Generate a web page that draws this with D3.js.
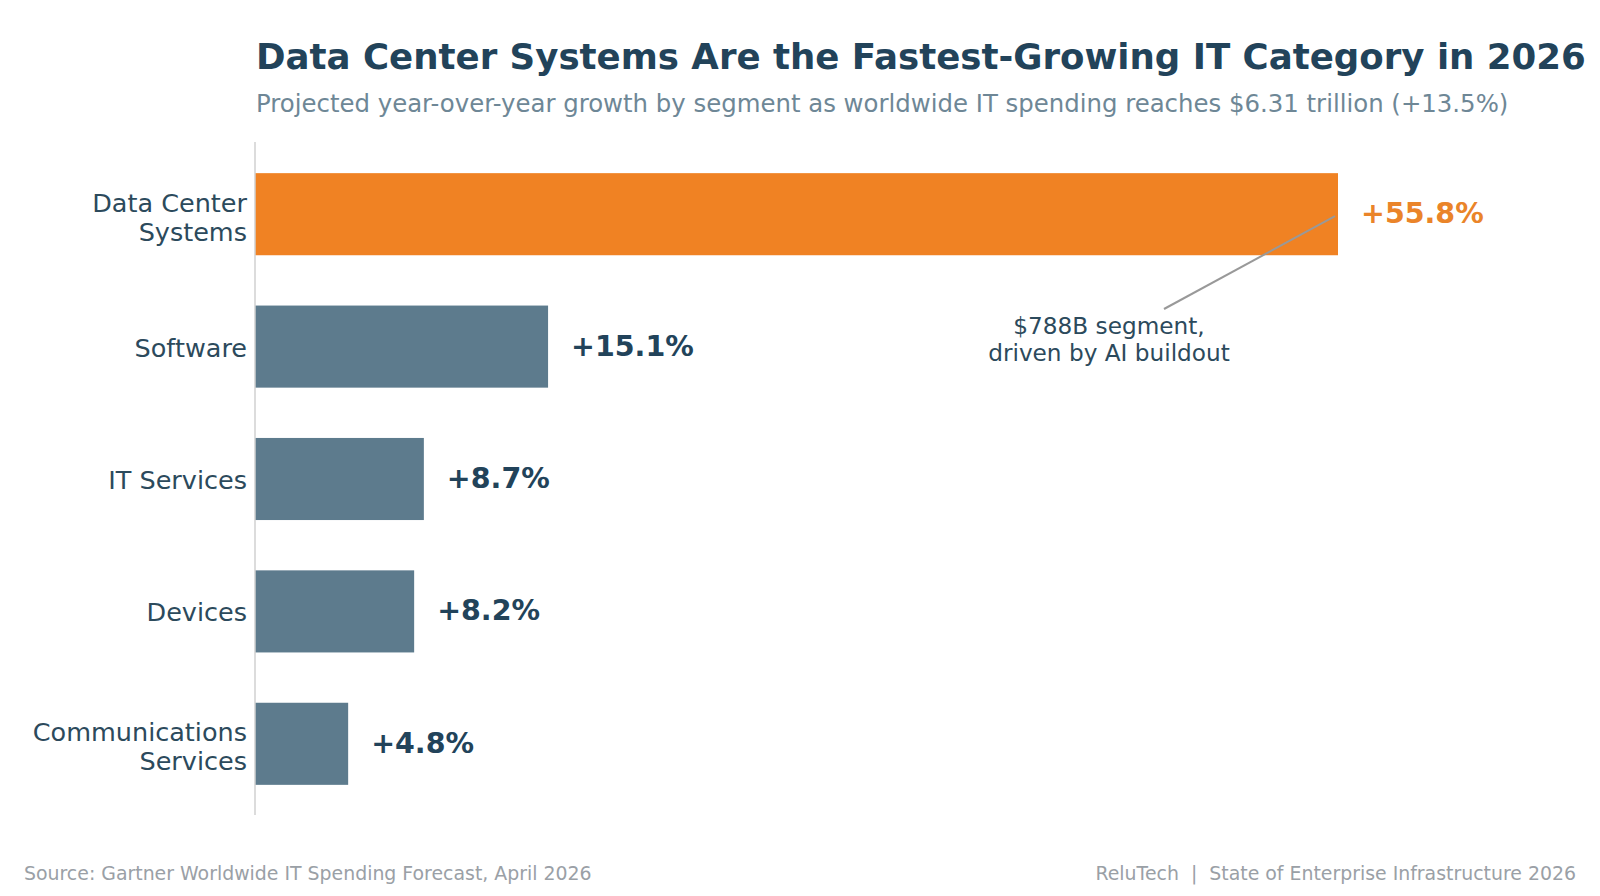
<!DOCTYPE html>
<html>
<head>
<meta charset="utf-8">
<script src="https://cdn.jsdelivr.net/npm/d3@7"></script>
<style>
  body { margin: 0; background: #fff; }
  svg { display: block; font-family: "DejaVu Sans", sans-serif; }
</style>
</head>
<body>
<svg id="chart" width="1600" height="896"></svg>
<script>
// chart data
var categories = [["Data Center", "Systems"], ["Software"], ["IT Services"], ["Devices"], ["Communications", "Services"]];
var growth = [55.8, 15.1, 8.7, 8.2, 4.8];
var valueLabels = ["+55.8%", "+15.1%", "+8.7%", "+8.2%", "+4.8%"];
var highlight = 0; // index of the bar that gets the orange colour

var title = "Data Center Systems Are the Fastest-Growing IT Category in 2026";
var subtitle = "Projected year-over-year growth by segment as worldwide IT spending reaches $6.31 trillion (+13.5%)";
var note = ["$788B segment,", "driven by AI buildout"];
var sourceText = "Source: Gartner Worldwide IT Spending Forecast, April 2026";
var brandText = "ReluTech  |  State of Enterprise Infrastructure 2026";

var orange = "#F08223",
    slate = "#5D7B8D",
    dark = "#22435A";

var svg = d3.select("#chart");

// scales
var x = d3.scaleLinear()
    .domain([0, 55.8])
    .range([255, 1338]);

var y = d3.scaleBand()
    .domain(d3.range(categories.length))
    .range([148, 810])
    .paddingInner(0.38)
    .paddingOuter(0.19);

// title + subtitle
svg.append("text")
    .attr("x", 256)
    .attr("y", 69)
    .attr("font-size", 35.6)
    .attr("font-weight", "bold")
    .attr("fill", dark)
    .text(title);

svg.append("text")
    .attr("x", 256)
    .attr("y", 112)
    .attr("font-size", 24.4)
    .attr("fill", "#6E8796")
    .text(subtitle);

// bars
svg.append("g")
    .selectAll("rect")
    .data(growth)
    .join("rect")
        .attr("x", x(0))
        .attr("y", function(d, i) { return y(i); })
        .attr("width", function(d) { return x(d) - x(0); })
        .attr("height", y.bandwidth())
        .attr("fill", function(d, i) { return i === highlight ? orange : slate; });

// left axis line
svg.append("line")
    .attr("x1", x(0)).attr("x2", x(0))
    .attr("y1", 142).attr("y2", 815)
    .attr("stroke", "#d0d0d0")
    .attr("stroke-width", 1.5);

// category labels (can be two lines)
var catText = svg.append("g")
    .selectAll("text")
    .data(categories)
    .join("text")
        .attr("x", x(0) - 8)
        .attr("y", function(d, i) { return y(i) + y.bandwidth() / 2; })
        .attr("text-anchor", "end")
        .attr("font-size", 25.5)
        .attr("fill", "#2C4A5C");

catText.each(function(lines) {
    var t = d3.select(this);
    var lh = 29;
    var start = -(lines.length - 1) * lh / 2;
    var off = 10 + (lines.length - 1) * 2;
    lines.forEach(function(l, k) {
        t.append("tspan")
            .attr("x", x(0) - 8)
            .attr("dy", k === 0 ? (start + off) : lh)
            .text(l);
    });
});

// value labels
svg.append("g")
    .selectAll("text")
    .data(growth)
    .join("text")
        .attr("x", function(d) { return x(d) + 23; })
        .attr("y", function(d, i) { return y(i) + y.bandwidth() / 2 + 9; })
        .attr("font-size", 28.5)
        .attr("font-weight", "bold")
        .attr("fill", function(d, i) { return i === highlight ? "#EA8429" : dark; })
        .text(function(d, i) { return valueLabels[i]; });

// annotation
var barMid = y(highlight) + y.bandwidth() / 2;
svg.append("line")
    .attr("x1", 1164).attr("y1", 309)
    .attr("x2", x(growth[highlight]) - 3).attr("y2", barMid + 2)
    .attr("stroke", "#999")
    .attr("stroke-width", 2);

svg.append("text")
    .attr("x", 1109)
    .attr("y", 334)
    .attr("text-anchor", "middle")
    .attr("font-size", 23.2)
    .attr("fill", "#2C4A5C")
    .selectAll("tspan")
    .data(note)
    .join("tspan")
        .attr("x", 1109)
        .attr("dy", function(d, i) { return i === 0 ? 0 : 27; })
        .text(function(d) { return d; });

// footer
svg.append("text")
    .attr("x", 24)
    .attr("y", 880)
    .attr("font-size", 18.9)
    .attr("fill", "#9AA0A6")
    .text(sourceText);

svg.append("text")
    .attr("x", 1576)
    .attr("y", 880)
    .attr("text-anchor", "end")
    .attr("font-size", 18.9)
    .attr("fill", "#9AA0A6")
    .style("white-space", "pre")
    .text(brandText);
</script>
</body>
</html>
